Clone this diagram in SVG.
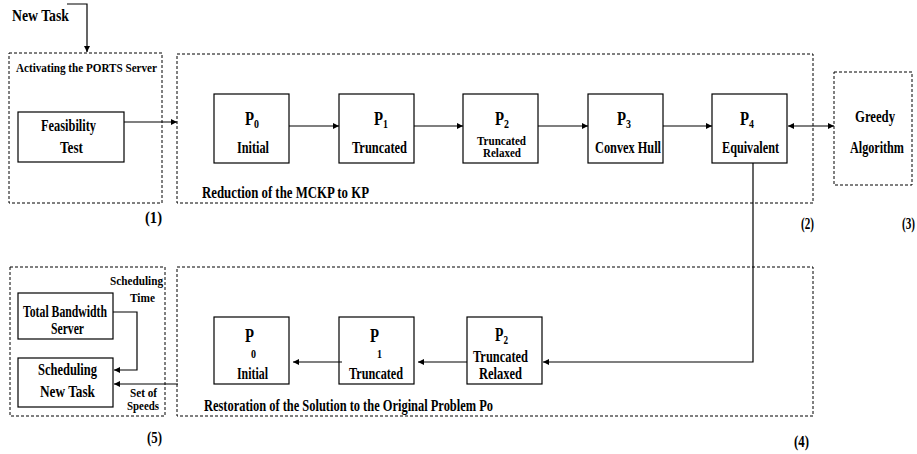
<svg xmlns="http://www.w3.org/2000/svg" width="917" height="454" viewBox="0 0 917 454">
<style>
text{font-family:"Liberation Serif","Times New Roman",serif;font-weight:bold;fill:#000}
.t{font-size:16px}
.s{font-size:13px}
.l{font-size:13px}
.p{font-size:18px}
.sub{font-size:12px}
.box{fill:#fff;stroke:#000;stroke-width:1.2}
.grp{fill:none;stroke:#000;stroke-width:1;stroke-dasharray:3 2}
.ln{fill:none;stroke:#000;stroke-width:1.2}
</style>
<defs>
<marker id="ah" viewBox="0 0 10 10" refX="10" refY="5" markerWidth="9" markerHeight="6" markerUnits="userSpaceOnUse" orient="auto-start-reverse">
<path d="M0,0 L10,5 L0,10 z" fill="#000"/>
</marker>
</defs>
<rect width="917" height="454" fill="#fff"/>

<g id="group1">
<rect class="grp" x="9" y="53" width="153" height="150"/>
<text class="l" x="16" y="72" textLength="141" lengthAdjust="spacingAndGlyphs">Activating the PORTS Server</text>
<text class="t" x="145" y="223" textLength="17" lengthAdjust="spacingAndGlyphs">(1)</text>
</g>
<g id="group2">
<rect class="grp" x="177" y="54" width="636" height="149"/>
<text class="t" x="202" y="198" textLength="167" lengthAdjust="spacingAndGlyphs">Reduction of the MCKP to KP</text>
<text class="t" x="801" y="229" textLength="13" lengthAdjust="spacingAndGlyphs">(2)</text>
</g>
<g id="group4">
<rect class="grp" x="177" y="267" width="636" height="149"/>
<text class="t" x="204" y="411" textLength="289" lengthAdjust="spacingAndGlyphs">Restoration of the Solution to the Original Problem Po</text>
<text class="t" x="794" y="447" textLength="15" lengthAdjust="spacingAndGlyphs">(4)</text>
</g>
<g id="group5">
<rect class="grp" x="10" y="267" width="155" height="149"/>
<text class="l" x="110" y="285" textLength="53" lengthAdjust="spacingAndGlyphs">Scheduling</text>
<text class="l" x="130" y="302" textLength="25" lengthAdjust="spacingAndGlyphs">Time</text>
<text class="l" x="130" y="397" textLength="27" lengthAdjust="spacingAndGlyphs">Set of</text>
<text class="l" x="127" y="410" textLength="32" lengthAdjust="spacingAndGlyphs">Speeds</text>
<text class="t" x="147" y="443" textLength="15" lengthAdjust="spacingAndGlyphs">(5)</text>
</g>

<g id="newtask">
<text x="12" y="21" font-size="17" textLength="57" lengthAdjust="spacingAndGlyphs">New Task</text>
</g>

<g id="feasibility">
<rect class="box" x="18" y="112" width="106" height="50"/>
<text class="t" x="41" y="131" textLength="55" lengthAdjust="spacingAndGlyphs">Feasibility</text>
<text class="t" x="60" y="153" textLength="23" lengthAdjust="spacingAndGlyphs">Test</text>
</g>

<g id="p0top">
<rect class="box" x="214" y="94" width="75" height="69"/>
<text x="245" y="125" textLength="14" lengthAdjust="spacingAndGlyphs"><tspan class="p">P</tspan><tspan class="sub" dy="3">0</tspan></text>
<text class="t" x="237" y="153" textLength="32" lengthAdjust="spacingAndGlyphs">Initial</text>
</g>
<g id="p1top">
<rect class="box" x="339" y="94" width="75" height="69"/>
<text x="374" y="125" textLength="14" lengthAdjust="spacingAndGlyphs"><tspan class="p">P</tspan><tspan class="sub" dy="3">1</tspan></text>
<text class="t" x="352" y="153" textLength="55" lengthAdjust="spacingAndGlyphs">Truncated</text>
</g>
<g id="p2top">
<rect class="box" x="463" y="94" width="75" height="69"/>
<text x="495" y="125" textLength="14" lengthAdjust="spacingAndGlyphs"><tspan class="p">P</tspan><tspan class="sub" dy="3">2</tspan></text>
<text class="s" x="477" y="145" textLength="49" lengthAdjust="spacingAndGlyphs">Truncated</text>
<text class="s" x="483" y="157" textLength="38" lengthAdjust="spacingAndGlyphs">Relaxed</text>
</g>
<g id="p3top">
<rect class="box" x="588" y="94" width="75" height="69"/>
<text x="617" y="125" textLength="14" lengthAdjust="spacingAndGlyphs"><tspan class="p">P</tspan><tspan class="sub" dy="3">3</tspan></text>
<text class="t" x="595" y="153" textLength="66" lengthAdjust="spacingAndGlyphs">Convex Hull</text>
</g>
<g id="p4top">
<rect class="box" x="712" y="94" width="75" height="69"/>
<text x="740" y="125" textLength="14" lengthAdjust="spacingAndGlyphs"><tspan class="p">P</tspan><tspan class="sub" dy="3">4</tspan></text>
<text class="t" x="722" y="153" textLength="57" lengthAdjust="spacingAndGlyphs">Equivalent</text>
</g>

<g id="greedy">
<rect class="grp" x="834" y="72" width="78" height="113"/>
<text class="t" x="855" y="122" textLength="40" lengthAdjust="spacingAndGlyphs">Greedy</text>
<text class="t" x="850" y="153" textLength="54" lengthAdjust="spacingAndGlyphs">Algorithm</text>
<text class="t" x="902" y="229" textLength="13" lengthAdjust="spacingAndGlyphs">(3)</text>
</g>

<g id="p2bot">
<rect class="box" x="467" y="317" width="75" height="67"/>
<text x="495" y="341" textLength="13" lengthAdjust="spacingAndGlyphs"><tspan class="p">P</tspan><tspan class="sub" dy="3">2</tspan></text>
<text class="t" x="473" y="362" textLength="55" lengthAdjust="spacingAndGlyphs">Truncated</text>
<text class="t" x="479" y="379" textLength="43" lengthAdjust="spacingAndGlyphs">Relaxed</text>
</g>
<g id="p1bot">
<rect class="box" x="339" y="317" width="75" height="67"/>
<text class="p" x="370" y="342" textLength="9" lengthAdjust="spacingAndGlyphs">P</text>
<text class="sub" x="377" y="358" textLength="5" lengthAdjust="spacingAndGlyphs">1</text>
<text class="t" x="349" y="379" textLength="54" lengthAdjust="spacingAndGlyphs">Truncated</text>
</g>
<g id="p0bot">
<rect class="box" x="214" y="317" width="75" height="67"/>
<text class="p" x="245" y="342" textLength="9" lengthAdjust="spacingAndGlyphs">P</text>
<text class="sub" x="251" y="358" textLength="5" lengthAdjust="spacingAndGlyphs">0</text>
<text class="t" x="237" y="379" textLength="31" lengthAdjust="spacingAndGlyphs">Initial</text>
</g>

<g id="tbs">
<rect class="box" x="18" y="293" width="95" height="46"/>
<text class="t" x="23" y="317" textLength="84" lengthAdjust="spacingAndGlyphs">Total Bandwidth</text>
<text class="t" x="51" y="334" textLength="33" lengthAdjust="spacingAndGlyphs">Server</text>
</g>
<g id="snt">
<rect class="box" x="18" y="358" width="95" height="49"/>
<text class="t" x="38" y="375" textLength="59" lengthAdjust="spacingAndGlyphs">Scheduling</text>
<text class="t" x="40" y="397" textLength="55" lengthAdjust="spacingAndGlyphs">New Task</text>
</g>

<g id="connectors">
<polyline class="ln" points="67,4 87,4 87,52" marker-end="url(#ah)"/>
<line class="ln" x1="124" y1="122" x2="177" y2="122" marker-end="url(#ah)"/>
<line class="ln" x1="289" y1="126" x2="339" y2="126" marker-end="url(#ah)"/>
<line class="ln" x1="414" y1="126" x2="463" y2="126" marker-end="url(#ah)"/>
<line class="ln" x1="538" y1="126" x2="588" y2="126" marker-end="url(#ah)"/>
<line class="ln" x1="663" y1="126" x2="712" y2="126" marker-end="url(#ah)"/>
<line class="ln" x1="788" y1="126" x2="834" y2="126" marker-start="url(#ah)" marker-end="url(#ah)"/>
<polyline class="ln" points="753,163 753,362 543,362" marker-end="url(#ah)"/>
<line class="ln" x1="467" y1="362" x2="418" y2="362" marker-end="url(#ah)"/>
<line class="ln" x1="342" y1="362" x2="293" y2="362" marker-end="url(#ah)"/>
<polyline class="ln" points="113,312 137,312 137,370 114,370" marker-end="url(#ah)"/>
<line class="ln" x1="178" y1="384" x2="114" y2="384" marker-end="url(#ah)"/>
</g>
</svg>
